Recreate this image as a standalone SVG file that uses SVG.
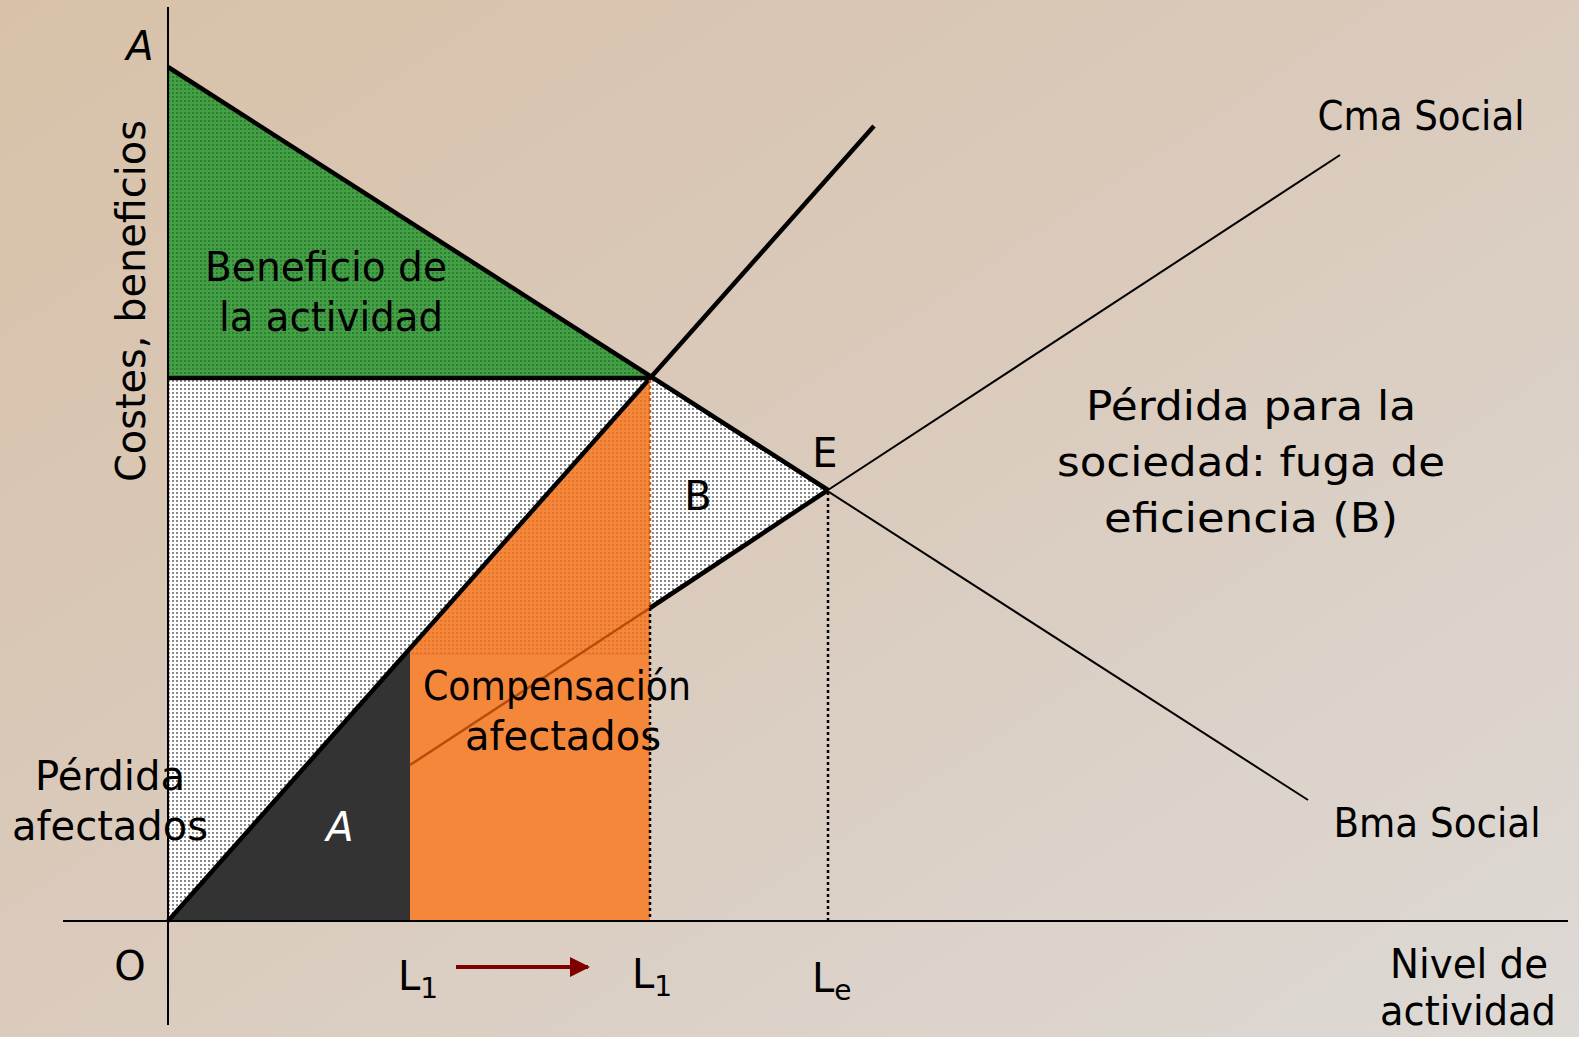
<svg xmlns="http://www.w3.org/2000/svg" width="1579" height="1037" viewBox="0 0 1579 1037">
<defs>
<linearGradient id="bg" x1="0" y1="0" x2="1" y2="1">
<stop offset="0" stop-color="#d8c1a8"/>
<stop offset="0.5" stop-color="#dacbbd"/>
<stop offset="1" stop-color="#ddd9d5"/>
</linearGradient>
<pattern id="dots" width="4" height="4" patternUnits="userSpaceOnUse">
<rect width="4" height="4" fill="#ffffff"/>
<rect width="2" height="2" fill="#8a8a8a"/>
</pattern>
<pattern id="gdots" width="4" height="4" patternUnits="userSpaceOnUse">
<rect width="4" height="4" fill="#44a044"/>
<rect width="2" height="2" fill="#2f7d32"/>
</pattern>
<pattern id="odots" width="4" height="4" patternUnits="userSpaceOnUse">
<rect width="4" height="4" fill="#f5873b" fill-opacity="0"/>
<rect width="2" height="2" fill="#d9691f" fill-opacity="0.6"/>
</pattern>
<marker id="arr" viewBox="0 0 10 10" refX="9" refY="5" markerWidth="5" markerHeight="5" markerUnits="strokeWidth" orient="auto">
<path d="M0,0 L10,5 L0,10 z" fill="#800000"/>
</marker>
<style>
text{font-family:"DejaVu Sans","Liberation Sans",sans-serif;font-size:40px;fill:#000}
.lbl{text-anchor:middle}
.thin{stroke:#000;stroke-width:2;fill:none}
.thick{stroke:#000;stroke-width:4.5;fill:none}
.dotv{stroke:#000;stroke-width:2.5;stroke-dasharray:3 3;fill:none}
</style>
</defs>
<rect width="1579" height="1037" fill="url(#bg)"/>

<g id="areas">
<polygon id="area-beneficio" points="168,67 168,378 650,378" fill="url(#gdots)"/>
<polygon id="area-perdida" points="168,378 650,378 168,921" fill="url(#dots)"/>
<polygon id="area-B" points="650,378 828,490 650,608" fill="url(#dots)"/>
<polygon id="area-compensacion" points="410,650 650,378 650,921 410,921" fill="#f5873b"/>
<polygon id="area-comp-dots" points="410,654 410,650 650,378 650,654" fill="url(#odots)"/>
<line x1="410" y1="654" x2="650" y2="654" stroke="#e8772e" stroke-width="1"/>
<polygon id="area-A" points="168,921 410,650 410,921" fill="#333333"/>
</g>

<g id="connectors">
<line id="axis-y" x1="168" y1="7" x2="168" y2="1025" class="thin" stroke-width="3"/>
<line id="axis-x" x1="63" y1="921" x2="1568" y2="921" class="thin" stroke-width="3"/>
<line id="bma" x1="168" y1="67" x2="1308" y2="800" class="thin" stroke-width="2.5"/>
<line id="bma-thick" x1="168" y1="67" x2="828" y2="490" class="thick" stroke-width="3.5"/>
<line id="cma-social" x1="828" y1="490" x2="1340" y2="155" class="thin" stroke-width="2.5"/>
<line id="cma-social-thick" x1="650" y1="608" x2="828" y2="490" class="thick" stroke-width="3.5"/>
<line id="cma-social-inner" x1="410" y1="765" x2="650" y2="608" stroke="#b54e0a" stroke-width="2.5"/>
<line id="cma-private" x1="168" y1="921" x2="874" y2="126" class="thick"/>
<line id="hline" x1="168" y1="378" x2="650" y2="378" class="thick" stroke-width="3.5"/>
<line id="v-l1-top" x1="650" y1="380" x2="650" y2="608" stroke="#c75b12" stroke-width="2.5" stroke-dasharray="3 3"/>
<line id="v-l1" x1="650" y1="608" x2="650" y2="921" class="dotv"/>
<line id="v-le" x1="828" y1="492" x2="828" y2="921" class="dotv"/>
<line id="arrow-l1" x1="456" y1="967" x2="588" y2="967" stroke="#800000" stroke-width="4" marker-end="url(#arr)"/>
</g>

<g id="labels">
<text x="140" y="60" class="lbl" font-style="italic">A</text>
<text transform="translate(145,301) rotate(-90)" class="lbl" textLength="362" lengthAdjust="spacingAndGlyphs">Costes, beneficios</text>
<g id="node-beneficio">
<text x="326" y="281" class="lbl" textLength="242" lengthAdjust="spacingAndGlyphs">Beneficio de</text>
<text x="331" y="331" class="lbl" textLength="224" lengthAdjust="spacingAndGlyphs">la actividad</text>
</g>
<g id="node-cma"><text x="1421" y="130" class="lbl" textLength="207" lengthAdjust="spacingAndGlyphs">Cma Social</text></g>
<g id="node-bma"><text x="1437" y="837" class="lbl" textLength="207" lengthAdjust="spacingAndGlyphs">Bma Social</text></g>
<g id="node-perdida-sociedad">
<text x="1251" y="420" class="lbl" textLength="330" lengthAdjust="spacingAndGlyphs">Pérdida para la</text>
<text x="1251" y="476" class="lbl" textLength="388" lengthAdjust="spacingAndGlyphs">sociedad: fuga de</text>
<text x="1251" y="532" class="lbl" textLength="294" lengthAdjust="spacingAndGlyphs">eficiencia (B)</text>
</g>
<g id="node-E"><text x="825" y="467" class="lbl">E</text></g>
<g id="node-B"><text x="698" y="510" class="lbl">B</text></g>
<g id="node-compensacion">
<text x="557" y="700" class="lbl" textLength="268" lengthAdjust="spacingAndGlyphs">Compensación</text>
<text x="563" y="750" class="lbl" textLength="196" lengthAdjust="spacingAndGlyphs">afectados</text>
</g>
<g id="node-perdida-afectados">
<text x="110" y="790" class="lbl" textLength="150" lengthAdjust="spacingAndGlyphs">Pérdida</text>
<text x="110" y="840" class="lbl" textLength="196" lengthAdjust="spacingAndGlyphs">afectados</text>
</g>
<g id="node-A"><text x="340" y="841" class="lbl" font-style="italic" style="fill:#ffffff">A</text></g>
<text x="130" y="980" class="lbl">O</text>
<text x="398" y="990">L<tspan font-size="28" dy="8">1</tspan></text>
<text x="632" y="988">L<tspan font-size="28" dy="8">1</tspan></text>
<text x="812" y="992">L<tspan font-size="28" dy="8">e</tspan></text>
<g id="node-nivel">
<text x="1469" y="978" class="lbl" textLength="158" lengthAdjust="spacingAndGlyphs">Nivel de</text>
<text x="1468" y="1025" class="lbl" textLength="176" lengthAdjust="spacingAndGlyphs">actividad</text>
</g>
</g>
</svg>
